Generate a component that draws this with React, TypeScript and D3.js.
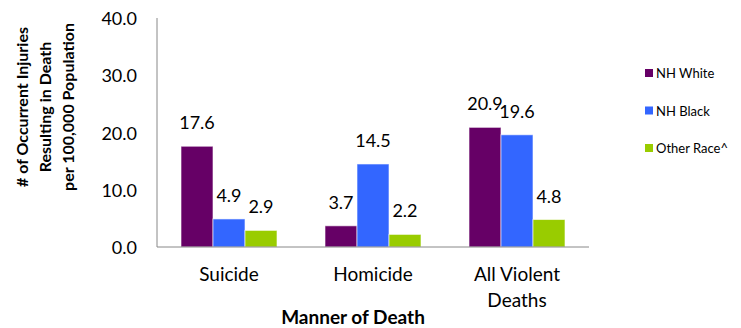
import React from "react";
import * as d3 from "d3";

const categories: string[][] = [["Suicide"], ["Homicide"], ["All Violent", "Deaths"]];
const seriesNames = ["NH White", "NH Black", "Other Race^"];
const seriesColors = ["#660066", "#3366FF", "#99CC00"];
const nhWhite = [17.6, 3.7, 20.9];
const nhBlack = [4.9, 14.5, 19.6];
const otherRace = [2.9, 2.2, 4.8];
const yTicks = [0, 10, 20, 30, 40];
const yTitle = ["# of Occurrent Injuries", "Resulting in Death", "per 100,000 Population"];
const xTitle = "Manner of Death";

const W = 741;
const H = 328;
const FONT = "Lato, 'Open Sans', sans-serif";

export default function App() {
  const series = [nhWhite, nhBlack, otherRace];
  const left = 157;
  const right = 589;
  const top = 18;
  const bottom = 247;

  const x0 = d3
    .scaleBand<number>()
    .domain(categories.map((_, i) => i))
    .range([left, right])
    .paddingInner(1 / 3)
    .paddingOuter(1 / 6);
  const x1 = d3
    .scaleBand<number>()
    .domain(seriesNames.map((_, i) => i))
    .range([0, x0.bandwidth()]);
  const y = d3.scaleLinear().domain([0, 40]).range([bottom, top]);

  return (
    <svg
      width={W}
      height={H}
      style={{ position: "fixed", left: 0, top: 0, display: "block", background: "#fff" }}
      fontFamily={FONT}
    >
      {/* y axis title */}
      <g transform="translate(44,107) rotate(-90)">
        {yTitle.map((t, i) => (
          <text
            key={i}
            x={0}
            y={(i - 1) * 23}
            textAnchor="middle"
            dominantBaseline="central"
            fontSize={16}
            fontWeight="bold"
            fill="#000"
          >
            {t}
          </text>
        ))}
      </g>

      {/* y tick labels */}
      {yTicks.map((t) => (
        <text
          key={t}
          x={137}
          y={y(t)}
          textAnchor="end"
          dominantBaseline="central"
          fontSize={18}
          fill="#000"
        >
          {t.toFixed(1)}
        </text>
      ))}

      {/* bars */}
      {categories.map((_, ci) => (
        <g key={ci} transform={`translate(${x0(ci)},0)`}>
          {series.map((vals, si) => (
            <rect
              key={si}
              x={x1(si)}
              y={y(vals[ci])}
              width={x1.bandwidth()}
              height={y(0) - y(vals[ci])}
              fill={seriesColors[si]}
              stroke="#ffffff"
              strokeOpacity={0.6}
              strokeWidth={1}
            />
          ))}
          {series.map((vals, si) => (
            <text
              key={"l" + si}
              x={(x1(si) as number) + x1.bandwidth() / 2}
              y={y(vals[ci]) - 17}
              textAnchor="middle"
              fontSize={18}
              fill="#000"
            >
              {vals[ci].toFixed(1)}
            </text>
          ))}
        </g>
      ))}

      {/* axis lines */}
      <line x1={left} x2={left} y1={top} y2={bottom} stroke="#888" strokeWidth={1} />
      <line x1={left} x2={right} y1={bottom} y2={bottom} stroke="#888" strokeWidth={1} />

      {/* category labels */}
      {categories.map((lines, ci) => (
        <text
          key={ci}
          x={(x0(ci) as number) + x0.bandwidth() / 2}
          y={281}
          textAnchor="middle"
          fontSize={19}
          fill="#000"
        >
          {lines.map((l, li) => (
            <tspan key={li} x={(x0(ci) as number) + x0.bandwidth() / 2} dy={li === 0 ? 0 : 26}>
              {l}
            </tspan>
          ))}
        </text>
      ))}

      {/* x axis title */}
      <text x={353} y={324} textAnchor="middle" fontSize={19} fontWeight="bold" fill="#000">
        {xTitle}
      </text>

      {/* legend */}
      {seriesNames.map((n, i) => (
        <g key={n} transform={`translate(645,${73 + i * 37.5})`}>
          <rect x={0} y={-4} width={8} height={8} fill={seriesColors[i]} />
          <text x={11} y={0} dominantBaseline="central" fontSize={13} fill="#000">
            {n}
          </text>
        </g>
      ))}
    </svg>
  );
}
